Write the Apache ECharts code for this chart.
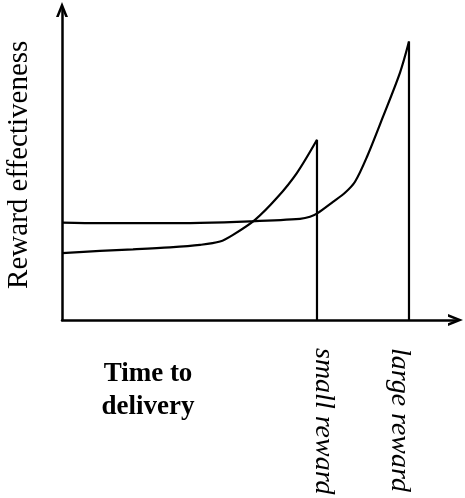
<!DOCTYPE html>
<html>
<head>
<meta charset="utf-8">
<title>Reward effectiveness</title>
<script src="https://cdn.jsdelivr.net/npm/echarts@6/dist/echarts.min.js"></script>
<style>
  html, body { margin: 0; padding: 0; background: #fff; }
  #main { width: 465px; height: 498px; }
</style>
</head>
<body>
<div id="main"></div>
<script>
// time axis runs 0..100, effectiveness 0..100 (arbitrary units)
var smallTime = [0, 9.66, 18.04, 27.45, 35.07, 40.15, 43.46, 49.05, 54.64, 59.72, 64.80];
var smallValue = [21.52, 22.26, 22.74, 23.39, 24.19, 25.26, 27.42, 32.26, 39.35, 47.42, 58.06];

var largeTime = [0, 9.66, 22.36, 35.07, 47.78, 60.48, 63.02, 65.06, 68.87, 71.92, 74.46, 77.51, 81.58, 85.90, 88.18];
var largeValue = [31.39, 31.19, 31.19, 31.29, 31.77, 32.58, 33.23, 34.52, 38.06, 40.97, 44.52, 52.58, 65.48, 79.68, 89.68];

// moment each reward is delivered (vertical drop to the time axis)
var smallDelivery = 64.80;
var largeDelivery = 88.18;

var rewardLabels = ['small reward', 'large reward'];
var rewardTicks = [66.46, 85.77];

var yAxisName = 'Reward effectiveness';
var xAxisName = 'Time to\ndelivery';

var serif = "'Liberation Serif', 'Times New Roman', serif";
var arrow = 'path://M6,0 L12,15 L9.3,15 L6,6.75 L2.7,15 L0,15 Z';

function zip(xs, ys) {
    return xs.map(function (x, i) { return [x, ys[i]]; });
}

function drop(x, top) {
    return [[x, top], [x, 0]];
}

function initChart() {
    var myChart = echarts.init(document.getElementById('main'));
    var line = { color: '#000', width: 2.2 };
    var option = {
        animation: false,
        grid: { left: 62, right: 9.5, top: 9.5, bottom: 178, outerBoundsMode: 'none' },
        xAxis: {
            type: 'value',
            min: 0,
            max: 100,
            splitLine: { show: false },
            axisTick: { show: false },
            axisLine: {
                onZero: false,
                symbol: ['none', arrow],
                symbolSize: [12, 15],
                lineStyle: { color: '#000', width: 2.5 }
            },
            axisLabel: {
                customValues: rewardTicks,
                rotate: -90,
                margin: 28,
                color: '#000',
                fontFamily: serif,
                fontStyle: 'italic',
                fontSize: 28,
                formatter: function (v) {
                    var i = rewardTicks.indexOf(v);
                    return i >= 0 ? rewardLabels[i] : '';
                }
            }
        },
        yAxis: {
            type: 'value',
            min: 0,
            max: 100,
            name: yAxisName,
            nameLocation: 'middle',
            nameRotate: 90,
            nameGap: 28,
            nameTextStyle: { color: '#000', fontFamily: serif, fontSize: 29 },
            splitLine: { show: false },
            axisTick: { show: false },
            axisLabel: { show: false },
            axisLine: {
                onZero: false,
                symbol: ['none', arrow],
                symbolSize: [12, 15],
                lineStyle: { color: '#000', width: 2.5 }
            }
        },
        graphic: [{
            type: 'text',
            x: 148,
            y: 358,
            style: {
                text: xAxisName,
                textAlign: 'center',
                fill: '#000',
                font: 'bold 27px ' + serif,
                lineHeight: 33
            }
        }],
        series: [
            { type: 'line', data: zip(smallTime, smallValue), smooth: 0.3,
              symbol: 'none', lineStyle: line },
            { type: 'line', data: zip(largeTime, largeValue), smooth: 0.3,
              symbol: 'none', lineStyle: line },
            { type: 'line', data: drop(smallDelivery, smallValue[smallValue.length - 1]),
              symbol: 'none', lineStyle: line },
            { type: 'line', data: drop(largeDelivery, largeValue[largeValue.length - 1]),
              symbol: 'none', lineStyle: line }
        ]
    };
    myChart.setOption(option);
}

initChart();
</script>
</body>
</html>
